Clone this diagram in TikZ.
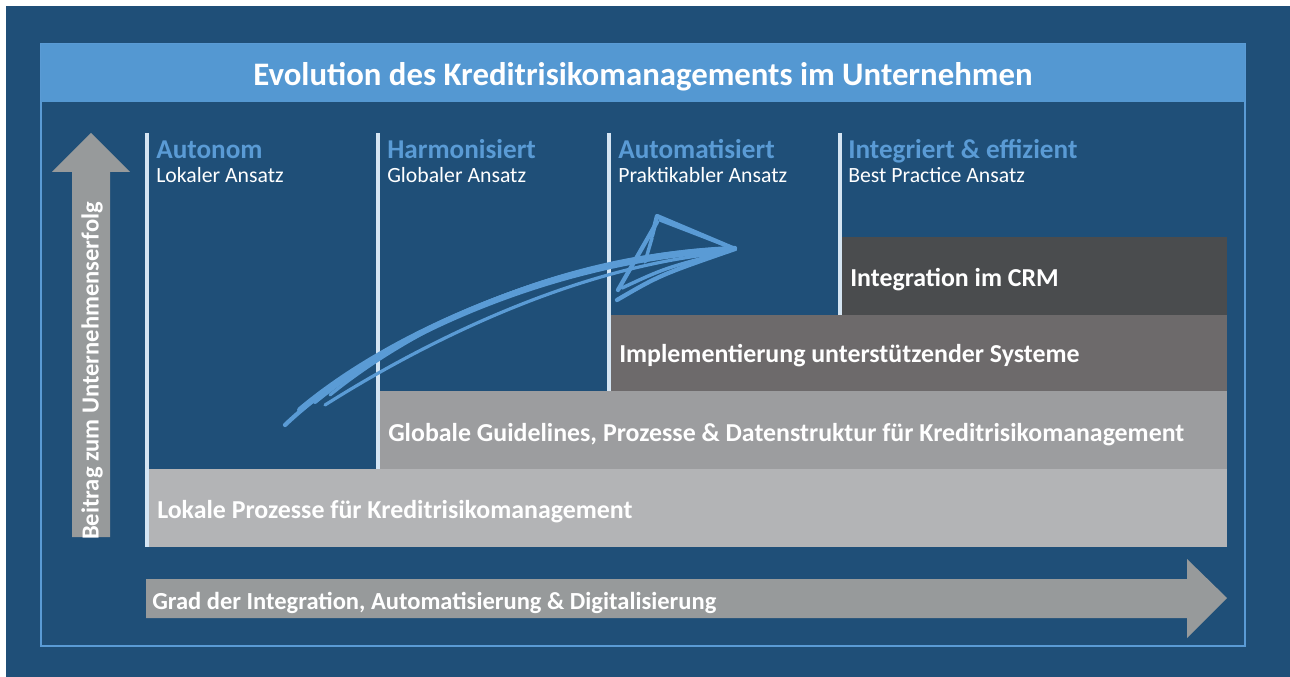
\documentclass[tikz,border=0pt]{standalone}
\usepackage{fontspec}
\setmainfont{Carlito}
\usetikzlibrary{positioning}

\definecolor{bgblue}{HTML}{1F4F78}
\definecolor{titleblue}{HTML}{5498D2}
\definecolor{headblue}{HTML}{5A9BD5}
\definecolor{rulelight}{HTML}{D5E5F3}
\definecolor{greyA}{HTML}{B3B4B6}
\definecolor{greyB}{HTML}{9C9D9F}
\definecolor{greyC}{HTML}{6D6A6B}
\definecolor{greyD}{HTML}{4A4C4E}
\definecolor{arrowgrey}{HTML}{979A9B}

\begin{document}
\begin{tikzpicture}[x=0.75pt, y=-0.75pt, every node/.style={inner sep=0pt, text=white}, phase/.style={anchor=base west, font=\fontsize{20.4}{24}\selectfont\bfseries, text=headblue}, approach/.style={anchor=base west, font=\fontsize{16.3}{19}\selectfont}, barlabel/.style={anchor=base west, font=\fontsize{19.4}{23}\selectfont\bfseries}, divider/.style={rulelight, line width=2.3pt}, sketch/.style={headblue, line width=3.2pt, line cap=round, line join=round}]
\useasboundingbox (0,0) rectangle (1290,677);
\fill[white] (0,0) rectangle (1290,677);
\fill[bgblue] (6,6) rectangle (1290,677);

% frame and title bar
\draw[headblue, line width=1.3pt] (41,44) rectangle (1245,646);
\fill[titleblue] (41,44) rectangle (1245,102);
\node[font=\fontsize{24.6}{29}\selectfont\bfseries] (title) at (643,77) {Evolution des Kreditrisikomanagements im Unternehmen};

% stacked bars
\fill[greyA] (147,469) rectangle (1227,547);
\fill[greyB] (378,391) rectangle (1227,469);
\fill[greyC] (609,315) rectangle (1227,391);
\fill[greyD] (840,237) rectangle (1227,315);

% phase dividers
\draw[divider] (147,133) -- (147,547);
\draw[divider] (378,133) -- (378,469);
\draw[divider] (609,133) -- (609,391);
\draw[divider] (840,133) -- (840,315);

% phase headers
\node[phase] (autonom) at (156,159) {Autonom};
\node[approach] (lokal) at ([yshift=-18pt]autonom.base west) {Lokaler Ansatz};
\node[phase] (harmon) at (387,159) {Harmonisiert};
\node[approach] (global) at ([yshift=-18pt]harmon.base west) {Globaler Ansatz};
\node[phase] (automat) at (618,159) {Automatisiert};
\node[approach] (prakt) at ([yshift=-18pt]automat.base west) {Praktikabler Ansatz};
\node[phase] (integr) at (848,159) {Integriert \& effizient};
\node[approach] (bestpr) at ([yshift=-18pt]integr.base west) {Best Practice Ansatz};

% bar labels
\node[barlabel] (lokalbar) at (157,518) {Lokale Prozesse für Kreditrisikomanagement};
\node[barlabel] (globalbar) at (388,441) {Globale Guidelines, Prozesse \& Datenstruktur für Kreditrisikomanagement};
\node[barlabel] (implbar) at (619,363) {Implementierung unterstützender Systeme};
\node[barlabel] (crmbar) at (850,287) {Integration im CRM};

% axis arrows
\fill[arrowgrey] (72,537) -- (72,172) -- (52,172) -- (91,133) -- (130,172) -- (110,172) -- (110,537) -- cycle;
\node[barlabel, anchor=center, rotate=90, font=\fontsize{18.4}{22}\selectfont\bfseries] (beitrag) at (92,371) {Beitrag zum Unternehmenserfolg};
\fill[arrowgrey] (146,579) -- (1187,579) -- (1187,559) -- (1227,598) -- (1187,638) -- (1187,618) -- (146,618) -- cycle;
\node[barlabel, font=\fontsize{18.4}{22}\selectfont\bfseries] (grad) at (152,609) {Grad der Integration, Automatisierung \& Digitalisierung};

% hand drawn arrow
\draw[sketch] (285,425) .. controls (380,335) and (560,255) .. (735,248);
\draw[sketch, line width=4.5pt] (300,410) .. controls (395,330) and (565,258) .. (728,250);
\draw[sketch, line width=2.4pt] (325,405) .. controls (420,345) and (570,268) .. (722,253);
\draw[sketch, line width=3pt] (315,402) .. controls (410,325) and (555,262) .. (700,252);
\draw[sketch, line width=2.4pt] (330,395) .. controls (420,322) and (560,258) .. (715,249);
\draw[sketch] (617,300) .. controls (660,275) .. (735,249);
\draw[sketch, line width=2.6pt] (622,288) .. controls (665,268) .. (730,251);
\draw[sketch] (735,249) -- (657,216) -- (652,236);
\draw[sketch, line width=2.6pt] (730,247) -- (660,220);
\draw[sketch] (657,222) -- (618,290);
\draw[sketch, line width=2.6pt] (652,238) -- (645,262);
\end{tikzpicture}
\end{document}
